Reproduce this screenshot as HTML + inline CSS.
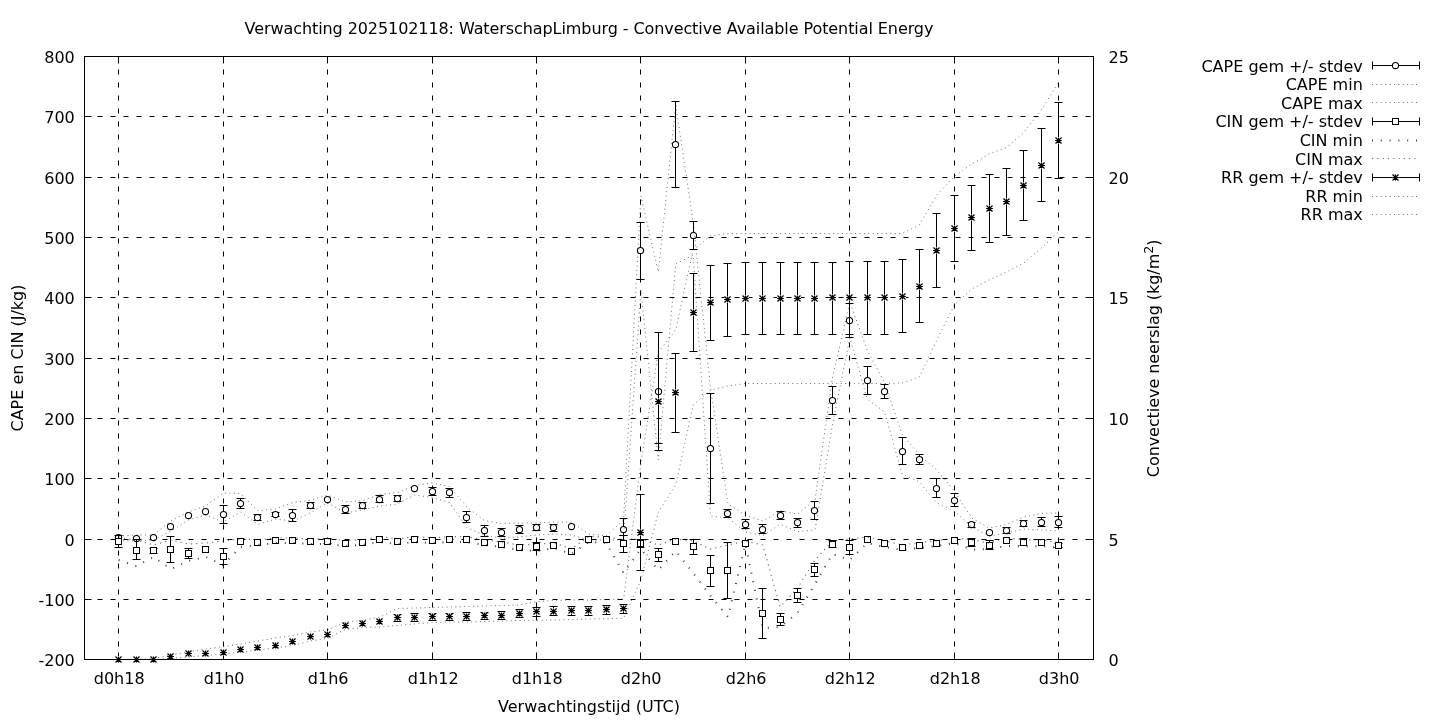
<!DOCTYPE html>
<html><head><meta charset="utf-8"><title>Convective Available Potential Energy</title>
<style>html,body{margin:0;padding:0;background:#fff}svg{display:block}text{font-family:"DejaVu Sans","Liberation Sans",sans-serif;fill:#000}</style></head>
<body>
<svg width="1440" height="720" viewBox="0 0 1440 720">
<rect x="0" y="0" width="1440" height="720" fill="#fff"/>
<path d="M84.5 599.5H1093.5M84.5 539.5H1093.5M84.5 478.5H1093.5M84.5 418.5H1093.5M84.5 358.5H1093.5M84.5 297.5H1093.5M84.5 237.5H1093.5M84.5 177.5H1093.5M84.5 116.5H1093.5" stroke="#000" stroke-width="1" fill="none" stroke-dasharray="5 8"/>
<path d="M118.5 659.5V56.5M223.5 659.5V56.5M327.5 659.5V56.5M432.5 659.5V56.5M536.5 659.5V56.5M640.5 659.5V56.5M745.5 659.5V56.5M849.5 659.5V56.5M954.5 659.5V56.5M1058.5 659.5V56.5" stroke="#000" stroke-width="1" fill="none" stroke-dasharray="5 8"/>
<path d="M84.5 659.5h7M84.5 599.5h7M84.5 539.5h7M84.5 478.5h7M84.5 418.5h7M84.5 358.5h7M84.5 297.5h7M84.5 237.5h7M84.5 177.5h7M84.5 116.5h7M84.5 56.5h7M1093.5 659.5h-7M1093.5 539.5h-7M1093.5 418.5h-7M1093.5 297.5h-7M1093.5 177.5h-7M1093.5 56.5h-7M118.5 659.5v-7M118.5 56.5v7M223.5 659.5v-7M223.5 56.5v7M327.5 659.5v-7M327.5 56.5v7M432.5 659.5v-7M432.5 56.5v7M536.5 659.5v-7M536.5 56.5v7M640.5 659.5v-7M640.5 56.5v7M745.5 659.5v-7M745.5 56.5v7M849.5 659.5v-7M849.5 56.5v7M954.5 659.5v-7M954.5 56.5v7M1058.5 659.5v-7M1058.5 56.5v7" stroke="#000" stroke-width="1" fill="none"/>
<text x="74.8" y="665.5" font-size="16" text-anchor="end">-200</text>
<text x="74.8" y="605.5" font-size="16" text-anchor="end">-100</text>
<text x="74.8" y="545.5" font-size="16" text-anchor="end">0</text>
<text x="74.8" y="484.5" font-size="16" text-anchor="end">100</text>
<text x="74.8" y="424.5" font-size="16" text-anchor="end">200</text>
<text x="74.8" y="364.5" font-size="16" text-anchor="end">300</text>
<text x="74.8" y="303.5" font-size="16" text-anchor="end">400</text>
<text x="74.8" y="243.5" font-size="16" text-anchor="end">500</text>
<text x="74.8" y="183.5" font-size="16" text-anchor="end">600</text>
<text x="74.8" y="122.5" font-size="16" text-anchor="end">700</text>
<text x="74.8" y="62.5" font-size="16" text-anchor="end">800</text>
<text x="1108.5" y="665.5" font-size="16">0</text>
<text x="1108.5" y="545.5" font-size="16">5</text>
<text x="1108.5" y="424.5" font-size="16">10</text>
<text x="1108.5" y="303.5" font-size="16">15</text>
<text x="1108.5" y="183.5" font-size="16">20</text>
<text x="1108.5" y="62.5" font-size="16">25</text>
<text x="119.2" y="683.9" font-size="16" text-anchor="middle">d0h18</text>
<text x="224.2" y="683.9" font-size="16" text-anchor="middle">d1h0</text>
<text x="328.2" y="683.9" font-size="16" text-anchor="middle">d1h6</text>
<text x="433.2" y="683.9" font-size="16" text-anchor="middle">d1h12</text>
<text x="537.2" y="683.9" font-size="16" text-anchor="middle">d1h18</text>
<text x="641.2" y="683.9" font-size="16" text-anchor="middle">d2h0</text>
<text x="746.2" y="683.9" font-size="16" text-anchor="middle">d2h6</text>
<text x="850.2" y="683.9" font-size="16" text-anchor="middle">d2h12</text>
<text x="955.2" y="683.9" font-size="16" text-anchor="middle">d2h18</text>
<text x="1059.2" y="683.9" font-size="16" text-anchor="middle">d3h0</text>
<text x="589" y="34.4" font-size="16" text-anchor="middle" textLength="688.8" lengthAdjust="spacing">Verwachting 2025102118: WaterschapLimburg - Convective Available Potential Energy</text>
<text x="589" y="712.2" font-size="16" text-anchor="middle">Verwachtingstijd (UTC)</text>
<text transform="translate(22.8 358) rotate(-90)" font-size="16" text-anchor="middle">CAPE en CIN (J/kg)</text>
<text transform="translate(1159 477.2) rotate(-90)" font-size="16" letter-spacing="-0.065">Convectieve neerslag (kg/m<tspan font-size="12.8" dy="-5.8">2</tspan><tspan dy="5.8">)</tspan></text>
<path d="M223.5 505.5V523.5M219.5 505.5h8M219.5 523.5h8M240.5 498.5V508.5M236.5 498.5h8M236.5 508.5h8M257.5 514.5V520.5M253.5 514.5h8M253.5 520.5h8M275.5 512.5V516.5M271.5 512.5h8M271.5 516.5h8M292.5 509.5V521.5M288.5 509.5h8M288.5 521.5h8M310.5 502.5V508.5M306.5 502.5h8M306.5 508.5h8M345.5 505.5V513.5M341.5 505.5h8M341.5 513.5h8M362.5 502.5V508.5M358.5 502.5h8M358.5 508.5h8M379.5 495.5V502.5M375.5 495.5h8M375.5 502.5h8M397.5 495.5V501.5M393.5 495.5h8M393.5 501.5h8M432.5 487.5V495.5M428.5 487.5h8M428.5 495.5h8M449.5 488.5V497.5M445.5 488.5h8M445.5 497.5h8M466.5 511.5V522.5M462.5 511.5h8M462.5 522.5h8M484.5 525.5V536.5M480.5 525.5h8M480.5 536.5h8M501.5 528.5V536.5M497.5 528.5h8M497.5 536.5h8M519.5 525.5V533.5M515.5 525.5h8M515.5 533.5h8M536.5 524.5V530.5M532.5 524.5h8M532.5 530.5h8M553.5 524.5V531.5M549.5 524.5h8M549.5 531.5h8M623.5 518.5V535.5M619.5 518.5h8M619.5 535.5h8M640.5 222.5V279.5M636.5 222.5h8M636.5 279.5h8M658.5 332.5V450.5M654.5 332.5h8M654.5 450.5h8M675.5 101.5V187.5M671.5 101.5h8M671.5 187.5h8M693.5 221.5V249.5M689.5 221.5h8M689.5 249.5h8M710.5 393.5V503.5M706.5 393.5h8M706.5 503.5h8M727.5 509.5V517.5M723.5 509.5h8M723.5 517.5h8M745.5 519.5V528.5M741.5 519.5h8M741.5 528.5h8M762.5 524.5V533.5M758.5 524.5h8M758.5 533.5h8M780.5 511.5V519.5M776.5 511.5h8M776.5 519.5h8M797.5 518.5V527.5M793.5 518.5h8M793.5 527.5h8M814.5 501.5V519.5M810.5 501.5h8M810.5 519.5h8M832.5 386.5V414.5M828.5 386.5h8M828.5 414.5h8M849.5 303.5V337.5M845.5 303.5h8M845.5 337.5h8M867.5 366.5V394.5M863.5 366.5h8M863.5 394.5h8M884.5 384.5V398.5M880.5 384.5h8M880.5 398.5h8M902.5 437.5V464.5M898.5 437.5h8M898.5 464.5h8M919.5 454.5V464.5M915.5 454.5h8M915.5 464.5h8M936.5 478.5V497.5M932.5 478.5h8M932.5 497.5h8M954.5 493.5V506.5M950.5 493.5h8M950.5 506.5h8M971.5 522.5V527.5M967.5 522.5h8M967.5 527.5h8M1006.5 527.5V533.5M1002.5 527.5h8M1002.5 533.5h8M1023.5 520.5V526.5M1019.5 520.5h8M1019.5 526.5h8M1041.5 517.5V526.5M1037.5 517.5h8M1037.5 526.5h8M1058.5 516.5V527.5M1054.5 516.5h8M1054.5 527.5h8" stroke="#000" stroke-width="1" fill="none"/>
<circle cx="118.5" cy="537.5" r="3.1" fill="#fff" stroke="#000" stroke-width="1.05"/>
<circle cx="136.5" cy="538.5" r="3.1" fill="#fff" stroke="#000" stroke-width="1.05"/>
<circle cx="153.5" cy="537.5" r="3.1" fill="#fff" stroke="#000" stroke-width="1.05"/>
<circle cx="170.5" cy="526.5" r="3.1" fill="#fff" stroke="#000" stroke-width="1.05"/>
<circle cx="188.5" cy="515.5" r="3.1" fill="#fff" stroke="#000" stroke-width="1.05"/>
<circle cx="205.5" cy="511.5" r="3.1" fill="#fff" stroke="#000" stroke-width="1.05"/>
<circle cx="223.5" cy="514.5" r="3.1" fill="#fff" stroke="#000" stroke-width="1.05"/>
<circle cx="240.5" cy="503.5" r="3.1" fill="#fff" stroke="#000" stroke-width="1.05"/>
<circle cx="257.5" cy="517.5" r="3.1" fill="#fff" stroke="#000" stroke-width="1.05"/>
<circle cx="275.5" cy="514.5" r="3.1" fill="#fff" stroke="#000" stroke-width="1.05"/>
<circle cx="292.5" cy="515.5" r="3.1" fill="#fff" stroke="#000" stroke-width="1.05"/>
<circle cx="310.5" cy="505.5" r="3.1" fill="#fff" stroke="#000" stroke-width="1.05"/>
<circle cx="327.5" cy="499.5" r="3.1" fill="#fff" stroke="#000" stroke-width="1.05"/>
<circle cx="345.5" cy="509.5" r="3.1" fill="#fff" stroke="#000" stroke-width="1.05"/>
<circle cx="362.5" cy="505.5" r="3.1" fill="#fff" stroke="#000" stroke-width="1.05"/>
<circle cx="379.5" cy="499.5" r="3.1" fill="#fff" stroke="#000" stroke-width="1.05"/>
<circle cx="397.5" cy="498.5" r="3.1" fill="#fff" stroke="#000" stroke-width="1.05"/>
<circle cx="414.5" cy="488.5" r="3.1" fill="#fff" stroke="#000" stroke-width="1.05"/>
<circle cx="432.5" cy="491.5" r="3.1" fill="#fff" stroke="#000" stroke-width="1.05"/>
<circle cx="449.5" cy="492.5" r="3.1" fill="#fff" stroke="#000" stroke-width="1.05"/>
<circle cx="466.5" cy="517.5" r="3.1" fill="#fff" stroke="#000" stroke-width="1.05"/>
<circle cx="484.5" cy="530.5" r="3.1" fill="#fff" stroke="#000" stroke-width="1.05"/>
<circle cx="501.5" cy="532.5" r="3.1" fill="#fff" stroke="#000" stroke-width="1.05"/>
<circle cx="519.5" cy="529.5" r="3.1" fill="#fff" stroke="#000" stroke-width="1.05"/>
<circle cx="536.5" cy="527.5" r="3.1" fill="#fff" stroke="#000" stroke-width="1.05"/>
<circle cx="553.5" cy="527.5" r="3.1" fill="#fff" stroke="#000" stroke-width="1.05"/>
<circle cx="571.5" cy="526.5" r="3.1" fill="#fff" stroke="#000" stroke-width="1.05"/>
<circle cx="588.5" cy="539.5" r="3.1" fill="#fff" stroke="#000" stroke-width="1.05"/>
<circle cx="606.5" cy="539.5" r="3.1" fill="#fff" stroke="#000" stroke-width="1.05"/>
<circle cx="623.5" cy="529.5" r="3.1" fill="#fff" stroke="#000" stroke-width="1.05"/>
<circle cx="640.5" cy="250.5" r="3.1" fill="#fff" stroke="#000" stroke-width="1.05"/>
<circle cx="658.5" cy="391.5" r="3.1" fill="#fff" stroke="#000" stroke-width="1.05"/>
<circle cx="675.5" cy="144.5" r="3.1" fill="#fff" stroke="#000" stroke-width="1.05"/>
<circle cx="693.5" cy="235.5" r="3.1" fill="#fff" stroke="#000" stroke-width="1.05"/>
<circle cx="710.5" cy="448.5" r="3.1" fill="#fff" stroke="#000" stroke-width="1.05"/>
<circle cx="727.5" cy="513.5" r="3.1" fill="#fff" stroke="#000" stroke-width="1.05"/>
<circle cx="745.5" cy="524.5" r="3.1" fill="#fff" stroke="#000" stroke-width="1.05"/>
<circle cx="762.5" cy="529.5" r="3.1" fill="#fff" stroke="#000" stroke-width="1.05"/>
<circle cx="780.5" cy="515.5" r="3.1" fill="#fff" stroke="#000" stroke-width="1.05"/>
<circle cx="797.5" cy="522.5" r="3.1" fill="#fff" stroke="#000" stroke-width="1.05"/>
<circle cx="814.5" cy="510.5" r="3.1" fill="#fff" stroke="#000" stroke-width="1.05"/>
<circle cx="832.5" cy="400.5" r="3.1" fill="#fff" stroke="#000" stroke-width="1.05"/>
<circle cx="849.5" cy="320.5" r="3.1" fill="#fff" stroke="#000" stroke-width="1.05"/>
<circle cx="867.5" cy="380.5" r="3.1" fill="#fff" stroke="#000" stroke-width="1.05"/>
<circle cx="884.5" cy="391.5" r="3.1" fill="#fff" stroke="#000" stroke-width="1.05"/>
<circle cx="902.5" cy="451.5" r="3.1" fill="#fff" stroke="#000" stroke-width="1.05"/>
<circle cx="919.5" cy="459.5" r="3.1" fill="#fff" stroke="#000" stroke-width="1.05"/>
<circle cx="936.5" cy="488.5" r="3.1" fill="#fff" stroke="#000" stroke-width="1.05"/>
<circle cx="954.5" cy="500.5" r="3.1" fill="#fff" stroke="#000" stroke-width="1.05"/>
<circle cx="971.5" cy="524.5" r="3.1" fill="#fff" stroke="#000" stroke-width="1.05"/>
<circle cx="989.5" cy="532.5" r="3.1" fill="#fff" stroke="#000" stroke-width="1.05"/>
<circle cx="1006.5" cy="530.5" r="3.1" fill="#fff" stroke="#000" stroke-width="1.05"/>
<circle cx="1023.5" cy="523.5" r="3.1" fill="#fff" stroke="#000" stroke-width="1.05"/>
<circle cx="1041.5" cy="522.5" r="3.1" fill="#fff" stroke="#000" stroke-width="1.05"/>
<circle cx="1058.5" cy="522.5" r="3.1" fill="#fff" stroke="#000" stroke-width="1.05"/>
<polyline points="118.7,541 136.11,541 153.51,540 170.92,531 188.33,520 205.74,515 223.14,522 240.55,512 257.96,524.5 275.37,519 292.77,521 310.18,513 327.59,502.5 345,513 362.4,510 379.81,506 397.22,504 414.63,495 432.03,497.5 449.44,502.5 466.85,527.5 484.26,535 501.66,538.3 519.07,537 536.48,535 553.88,534 571.29,535 588.7,540 606.11,540 623.51,540 640.92,290 658.33,460 675.74,264 693.14,255 710.55,516 727.96,518 745.37,532 762.77,535.6 780.18,524.3 797.59,531.5 815,530 832.4,425 849.81,338 867.22,399 884.63,412 902.03,474 919.44,482 936.85,503 954.26,511 971.66,527 989.07,536 1006.48,533 1023.88,529 1041.29,530 1058.7,531" fill="none" stroke="#000" stroke-opacity="0.56" stroke-width="1" stroke-dasharray="1 3.4"/>
<polyline points="118.7,536 136.11,535 153.51,535 170.92,521 188.33,512 205.74,506 223.14,493 240.55,493.5 257.96,511 275.37,509 292.77,502.5 310.18,500.4 327.59,495 345,502 362.4,500.7 379.81,494.5 397.22,492.5 414.63,485.5 432.03,483 449.44,486.5 466.85,507 484.26,520.5 501.66,523.5 519.07,523 536.48,523 553.88,522 571.29,522 588.7,534 606.11,536 623.51,520 640.92,196 658.33,272 675.74,105 693.14,222 710.55,388 727.96,504 745.37,515 762.77,521 780.18,511 797.59,514 815,500 832.4,378 849.81,302 867.22,350 884.63,383 902.03,434 919.44,455 936.85,470 954.26,491 971.66,518 989.07,528 1006.48,524.5 1023.88,517 1041.29,513.3 1058.7,513" fill="none" stroke="#000" stroke-opacity="0.56" stroke-width="1" stroke-dasharray="1 3.4"/>
<path d="M118.5 535.5V547.5M114.5 535.5h8M114.5 547.5h8M136.5 539.5V559.5M132.5 539.5h8M132.5 559.5h8M153.5 548.5V553.5M149.5 548.5h8M149.5 553.5h8M170.5 536.5V562.5M166.5 536.5h8M166.5 562.5h8M188.5 548.5V558.5M184.5 548.5h8M184.5 558.5h8M223.5 548.5V564.5M219.5 548.5h8M219.5 564.5h8M327.5 538.5V543.5M323.5 538.5h8M323.5 543.5h8M536.5 542.5V550.5M532.5 542.5h8M532.5 550.5h8M623.5 535.5V552.5M619.5 535.5h8M619.5 552.5h8M640.5 539.5V547.5M636.5 539.5h8M636.5 547.5h8M658.5 548.5V561.5M654.5 548.5h8M654.5 561.5h8M693.5 539.5V554.5M689.5 539.5h8M689.5 554.5h8M710.5 555.5V586.5M706.5 555.5h8M706.5 586.5h8M727.5 542.5V598.5M723.5 542.5h8M723.5 598.5h8M762.5 588.5V638.5M758.5 588.5h8M758.5 638.5h8M780.5 613.5V625.5M776.5 613.5h8M776.5 625.5h8M797.5 588.5V602.5M793.5 588.5h8M793.5 602.5h8M814.5 563.5V576.5M810.5 563.5h8M810.5 576.5h8M832.5 540.5V547.5M828.5 540.5h8M828.5 547.5h8M849.5 540.5V554.5M845.5 540.5h8M845.5 554.5h8M971.5 538.5V546.5M967.5 538.5h8M967.5 546.5h8M989.5 540.5V549.5M985.5 540.5h8M985.5 549.5h8M1023.5 538.5V545.5M1019.5 538.5h8M1019.5 545.5h8M1058.5 543.5V547.5M1054.5 543.5h8M1054.5 547.5h8" stroke="#000" stroke-width="1" fill="none"/>
<rect x="115.5" y="538.5" width="6" height="6" fill="#fff" stroke="#000" stroke-width="1"/>
<rect x="133.5" y="547.5" width="6" height="6" fill="#fff" stroke="#000" stroke-width="1"/>
<rect x="150.5" y="547.5" width="6" height="6" fill="#fff" stroke="#000" stroke-width="1"/>
<rect x="167.5" y="546.5" width="6" height="6" fill="#fff" stroke="#000" stroke-width="1"/>
<rect x="185.5" y="550.5" width="6" height="6" fill="#fff" stroke="#000" stroke-width="1"/>
<rect x="202.5" y="546.5" width="6" height="6" fill="#fff" stroke="#000" stroke-width="1"/>
<rect x="220.5" y="553.5" width="6" height="6" fill="#fff" stroke="#000" stroke-width="1"/>
<rect x="237.5" y="538.5" width="6" height="6" fill="#fff" stroke="#000" stroke-width="1"/>
<rect x="254.5" y="539.5" width="6" height="6" fill="#fff" stroke="#000" stroke-width="1"/>
<rect x="272.5" y="537.5" width="6" height="6" fill="#fff" stroke="#000" stroke-width="1"/>
<rect x="289.5" y="537.5" width="6" height="6" fill="#fff" stroke="#000" stroke-width="1"/>
<rect x="307.5" y="538.5" width="6" height="6" fill="#fff" stroke="#000" stroke-width="1"/>
<rect x="324.5" y="538.5" width="6" height="6" fill="#fff" stroke="#000" stroke-width="1"/>
<rect x="342.5" y="540.5" width="6" height="6" fill="#fff" stroke="#000" stroke-width="1"/>
<rect x="359.5" y="539.5" width="6" height="6" fill="#fff" stroke="#000" stroke-width="1"/>
<rect x="376.5" y="536.5" width="6" height="6" fill="#fff" stroke="#000" stroke-width="1"/>
<rect x="394.5" y="538.5" width="6" height="6" fill="#fff" stroke="#000" stroke-width="1"/>
<rect x="411.5" y="536.5" width="6" height="6" fill="#fff" stroke="#000" stroke-width="1"/>
<rect x="429.5" y="537.5" width="6" height="6" fill="#fff" stroke="#000" stroke-width="1"/>
<rect x="446.5" y="536.5" width="6" height="6" fill="#fff" stroke="#000" stroke-width="1"/>
<rect x="463.5" y="536.5" width="6" height="6" fill="#fff" stroke="#000" stroke-width="1"/>
<rect x="481.5" y="539.5" width="6" height="6" fill="#fff" stroke="#000" stroke-width="1"/>
<rect x="498.5" y="541.5" width="6" height="6" fill="#fff" stroke="#000" stroke-width="1"/>
<rect x="516.5" y="544.5" width="6" height="6" fill="#fff" stroke="#000" stroke-width="1"/>
<rect x="533.5" y="543.5" width="6" height="6" fill="#fff" stroke="#000" stroke-width="1"/>
<rect x="550.5" y="542.5" width="6" height="6" fill="#fff" stroke="#000" stroke-width="1"/>
<rect x="568.5" y="548.5" width="6" height="6" fill="#fff" stroke="#000" stroke-width="1"/>
<rect x="585.5" y="536.5" width="6" height="6" fill="#fff" stroke="#000" stroke-width="1"/>
<rect x="603.5" y="536.5" width="6" height="6" fill="#fff" stroke="#000" stroke-width="1"/>
<rect x="620.5" y="540.5" width="6" height="6" fill="#fff" stroke="#000" stroke-width="1"/>
<rect x="637.5" y="540.5" width="6" height="6" fill="#fff" stroke="#000" stroke-width="1"/>
<rect x="655.5" y="551.5" width="6" height="6" fill="#fff" stroke="#000" stroke-width="1"/>
<rect x="672.5" y="538.5" width="6" height="6" fill="#fff" stroke="#000" stroke-width="1"/>
<rect x="690.5" y="543.5" width="6" height="6" fill="#fff" stroke="#000" stroke-width="1"/>
<rect x="707.5" y="567.5" width="6" height="6" fill="#fff" stroke="#000" stroke-width="1"/>
<rect x="724.5" y="567.5" width="6" height="6" fill="#fff" stroke="#000" stroke-width="1"/>
<rect x="742.5" y="540.5" width="6" height="6" fill="#fff" stroke="#000" stroke-width="1"/>
<rect x="759.5" y="610.5" width="6" height="6" fill="#fff" stroke="#000" stroke-width="1"/>
<rect x="777.5" y="616.5" width="6" height="6" fill="#fff" stroke="#000" stroke-width="1"/>
<rect x="794.5" y="592.5" width="6" height="6" fill="#fff" stroke="#000" stroke-width="1"/>
<rect x="811.5" y="566.5" width="6" height="6" fill="#fff" stroke="#000" stroke-width="1"/>
<rect x="829.5" y="541.5" width="6" height="6" fill="#fff" stroke="#000" stroke-width="1"/>
<rect x="846.5" y="544.5" width="6" height="6" fill="#fff" stroke="#000" stroke-width="1"/>
<rect x="864.5" y="536.5" width="6" height="6" fill="#fff" stroke="#000" stroke-width="1"/>
<rect x="881.5" y="540.5" width="6" height="6" fill="#fff" stroke="#000" stroke-width="1"/>
<rect x="899.5" y="544.5" width="6" height="6" fill="#fff" stroke="#000" stroke-width="1"/>
<rect x="916.5" y="542.5" width="6" height="6" fill="#fff" stroke="#000" stroke-width="1"/>
<rect x="933.5" y="540.5" width="6" height="6" fill="#fff" stroke="#000" stroke-width="1"/>
<rect x="951.5" y="537.5" width="6" height="6" fill="#fff" stroke="#000" stroke-width="1"/>
<rect x="968.5" y="539.5" width="6" height="6" fill="#fff" stroke="#000" stroke-width="1"/>
<rect x="986.5" y="542.5" width="6" height="6" fill="#fff" stroke="#000" stroke-width="1"/>
<rect x="1003.5" y="537.5" width="6" height="6" fill="#fff" stroke="#000" stroke-width="1"/>
<rect x="1020.5" y="539.5" width="6" height="6" fill="#fff" stroke="#000" stroke-width="1"/>
<rect x="1038.5" y="539.5" width="6" height="6" fill="#fff" stroke="#000" stroke-width="1"/>
<rect x="1055.5" y="542.5" width="6" height="6" fill="#fff" stroke="#000" stroke-width="1"/>
<polyline points="118.7,560 136.11,566 153.51,557 170.92,569 188.33,561 205.74,557 223.14,565 240.55,547 257.96,545 275.37,543 292.77,543 310.18,544 327.59,544 345,546 362.4,545 379.81,542 397.22,544 414.63,542 432.03,543 449.44,542 466.85,542 484.26,545 501.66,547 519.07,550 536.48,551 553.88,548 571.29,554 588.7,542 606.11,543 623.51,573 640.92,549 658.33,570 675.74,551 693.14,573 710.55,596 727.96,617 745.37,544 762.77,628 780.18,627 797.59,613 815,584 832.4,554 849.81,560 867.22,543 884.63,547 902.03,550 919.44,548 936.85,546 954.26,543 971.66,549.5 989.07,549 1006.48,546 1023.88,546.5 1041.29,546 1058.7,548" fill="none" stroke="#000" stroke-opacity="0.75" stroke-width="2" stroke-dasharray="1 7.8"/>
<polyline points="118.7,538 136.11,540 153.51,545 170.92,540 188.33,544 205.74,543 223.14,541 240.55,538.8 257.96,540 275.37,538 292.77,538 310.18,539 327.59,538.8 345,540.5 362.4,539.7 379.81,536.7 397.22,538.8 414.63,536.7 432.03,538 449.44,536.7 466.85,536.7 484.26,540 501.66,542 519.07,545 536.48,544.2 553.88,543 571.29,548.8 588.7,536.7 606.11,536.7 623.51,540 640.92,539 658.33,545 675.74,539 693.14,541 710.55,549 727.96,545 745.37,541 762.77,545 780.18,607 797.59,588 815,560 832.4,541 849.81,539 867.22,537 884.63,540.8 902.03,545 919.44,542.5 936.85,540.8 954.26,537.8 971.66,539.8 989.07,543.1 1006.48,537.7 1023.88,539.8 1041.29,539.8 1058.7,542.7" fill="none" stroke="#000" stroke-opacity="0.56" stroke-width="1.2" stroke-dasharray="1.2 4.1"/>
<path d="M397.5 614.5V621.5M393.5 614.5h8M393.5 621.5h8M414.5 613.5V621.5M410.5 613.5h8M410.5 621.5h8M432.5 613.5V620.5M428.5 613.5h8M428.5 620.5h8M449.5 613.5V620.5M445.5 613.5h8M445.5 620.5h8M466.5 612.5V620.5M462.5 612.5h8M462.5 620.5h8M484.5 612.5V619.5M480.5 612.5h8M480.5 619.5h8M501.5 611.5V619.5M497.5 611.5h8M497.5 619.5h8M519.5 609.5V617.5M515.5 609.5h8M515.5 617.5h8M536.5 607.5V616.5M532.5 607.5h8M532.5 616.5h8M553.5 606.5V615.5M549.5 606.5h8M549.5 615.5h8M571.5 606.5V615.5M567.5 606.5h8M567.5 615.5h8M588.5 606.5V615.5M584.5 606.5h8M584.5 615.5h8M606.5 605.5V614.5M602.5 605.5h8M602.5 614.5h8M623.5 604.5V613.5M619.5 604.5h8M619.5 613.5h8M640.5 494.5V570.5M636.5 494.5h8M636.5 570.5h8M658.5 358.5V443.5M654.5 358.5h8M654.5 443.5h8M675.5 353.5V432.5M671.5 353.5h8M671.5 432.5h8M693.5 273.5V351.5M689.5 273.5h8M689.5 351.5h8M710.5 265.5V340.5M706.5 265.5h8M706.5 340.5h8M727.5 263.5V336.5M723.5 263.5h8M723.5 336.5h8M745.5 262.5V334.5M741.5 262.5h8M741.5 334.5h8M762.5 262.5V334.5M758.5 262.5h8M758.5 334.5h8M780.5 262.5V334.5M776.5 262.5h8M776.5 334.5h8M797.5 262.5V334.5M793.5 262.5h8M793.5 334.5h8M814.5 262.5V334.5M810.5 262.5h8M810.5 334.5h8M832.5 262.5V334.5M828.5 262.5h8M828.5 334.5h8M849.5 261.5V334.5M845.5 261.5h8M845.5 334.5h8M867.5 261.5V334.5M863.5 261.5h8M863.5 334.5h8M884.5 261.5V334.5M880.5 261.5h8M880.5 334.5h8M902.5 259.5V332.5M898.5 259.5h8M898.5 332.5h8M919.5 249.5V322.5M915.5 249.5h8M915.5 322.5h8M936.5 213.5V287.5M932.5 213.5h8M932.5 287.5h8M954.5 195.5V261.5M950.5 195.5h8M950.5 261.5h8M971.5 185.5V250.5M967.5 185.5h8M967.5 250.5h8M989.5 174.5V242.5M985.5 174.5h8M985.5 242.5h8M1006.5 168.5V235.5M1002.5 168.5h8M1002.5 235.5h8M1023.5 150.5V220.5M1019.5 150.5h8M1019.5 220.5h8M1041.5 128.5V201.5M1037.5 128.5h8M1037.5 201.5h8M1058.5 102.5V178.5M1054.5 102.5h8M1054.5 178.5h8" stroke="#000" stroke-width="1" fill="none"/>
<circle cx="118.5" cy="659.5" r="3.6" fill="#fff"/>
<circle cx="136.5" cy="659.5" r="3.6" fill="#fff"/>
<circle cx="153.5" cy="659.5" r="3.6" fill="#fff"/>
<circle cx="170.5" cy="656.5" r="3.6" fill="#fff"/>
<circle cx="188.5" cy="653.5" r="3.6" fill="#fff"/>
<circle cx="205.5" cy="653.5" r="3.6" fill="#fff"/>
<circle cx="223.5" cy="652.5" r="3.6" fill="#fff"/>
<circle cx="240.5" cy="649.5" r="3.6" fill="#fff"/>
<circle cx="257.5" cy="647.5" r="3.6" fill="#fff"/>
<circle cx="275.5" cy="645.5" r="3.6" fill="#fff"/>
<circle cx="292.5" cy="641.5" r="3.6" fill="#fff"/>
<circle cx="310.5" cy="636.5" r="3.6" fill="#fff"/>
<circle cx="327.5" cy="634.5" r="3.6" fill="#fff"/>
<circle cx="345.5" cy="625.5" r="3.6" fill="#fff"/>
<circle cx="362.5" cy="623.5" r="3.6" fill="#fff"/>
<circle cx="379.5" cy="621.5" r="3.6" fill="#fff"/>
<circle cx="397.5" cy="617.5" r="3.6" fill="#fff"/>
<circle cx="414.5" cy="617.5" r="3.6" fill="#fff"/>
<circle cx="432.5" cy="616.5" r="3.6" fill="#fff"/>
<circle cx="449.5" cy="616.5" r="3.6" fill="#fff"/>
<circle cx="466.5" cy="616.5" r="3.6" fill="#fff"/>
<circle cx="484.5" cy="615.5" r="3.6" fill="#fff"/>
<circle cx="501.5" cy="615.5" r="3.6" fill="#fff"/>
<circle cx="519.5" cy="613.5" r="3.6" fill="#fff"/>
<circle cx="536.5" cy="611.5" r="3.6" fill="#fff"/>
<circle cx="553.5" cy="611.5" r="3.6" fill="#fff"/>
<circle cx="571.5" cy="610.5" r="3.6" fill="#fff"/>
<circle cx="588.5" cy="610.5" r="3.6" fill="#fff"/>
<circle cx="606.5" cy="609.5" r="3.6" fill="#fff"/>
<circle cx="623.5" cy="608.5" r="3.6" fill="#fff"/>
<circle cx="640.5" cy="532.5" r="3.6" fill="#fff"/>
<circle cx="658.5" cy="401.5" r="3.6" fill="#fff"/>
<circle cx="675.5" cy="392.5" r="3.6" fill="#fff"/>
<circle cx="693.5" cy="312.5" r="3.6" fill="#fff"/>
<circle cx="710.5" cy="302.5" r="3.6" fill="#fff"/>
<circle cx="727.5" cy="299.5" r="3.6" fill="#fff"/>
<circle cx="745.5" cy="298.5" r="3.6" fill="#fff"/>
<circle cx="762.5" cy="298.5" r="3.6" fill="#fff"/>
<circle cx="780.5" cy="298.5" r="3.6" fill="#fff"/>
<circle cx="797.5" cy="298.5" r="3.6" fill="#fff"/>
<circle cx="814.5" cy="298.5" r="3.6" fill="#fff"/>
<circle cx="832.5" cy="297.5" r="3.6" fill="#fff"/>
<circle cx="849.5" cy="297.5" r="3.6" fill="#fff"/>
<circle cx="867.5" cy="297.5" r="3.6" fill="#fff"/>
<circle cx="884.5" cy="297.5" r="3.6" fill="#fff"/>
<circle cx="902.5" cy="296.5" r="3.6" fill="#fff"/>
<circle cx="919.5" cy="286.5" r="3.6" fill="#fff"/>
<circle cx="936.5" cy="250.5" r="3.6" fill="#fff"/>
<circle cx="954.5" cy="228.5" r="3.6" fill="#fff"/>
<circle cx="971.5" cy="217.5" r="3.6" fill="#fff"/>
<circle cx="989.5" cy="208.5" r="3.6" fill="#fff"/>
<circle cx="1006.5" cy="201.5" r="3.6" fill="#fff"/>
<circle cx="1023.5" cy="185.5" r="3.6" fill="#fff"/>
<circle cx="1041.5" cy="165.5" r="3.6" fill="#fff"/>
<circle cx="1058.5" cy="140.5" r="3.6" fill="#fff"/>
<path d="M115.1 659.5h6.8M118.5 656.5v6M115.5 656.5l6 6M115.5 662.5l6 -6M133.1 659.5h6.8M136.5 656.5v6M133.5 656.5l6 6M133.5 662.5l6 -6M150.1 659.5h6.8M153.5 656.5v6M150.5 656.5l6 6M150.5 662.5l6 -6M167.1 656.5h6.8M170.5 653.5v6M167.5 653.5l6 6M167.5 659.5l6 -6M185.1 653.5h6.8M188.5 650.5v6M185.5 650.5l6 6M185.5 656.5l6 -6M202.1 653.5h6.8M205.5 650.5v6M202.5 650.5l6 6M202.5 656.5l6 -6M220.1 652.5h6.8M223.5 649.5v6M220.5 649.5l6 6M220.5 655.5l6 -6M237.1 649.5h6.8M240.5 646.5v6M237.5 646.5l6 6M237.5 652.5l6 -6M254.1 647.5h6.8M257.5 644.5v6M254.5 644.5l6 6M254.5 650.5l6 -6M272.1 645.5h6.8M275.5 642.5v6M272.5 642.5l6 6M272.5 648.5l6 -6M289.1 641.5h6.8M292.5 638.5v6M289.5 638.5l6 6M289.5 644.5l6 -6M307.1 636.5h6.8M310.5 633.5v6M307.5 633.5l6 6M307.5 639.5l6 -6M324.1 634.5h6.8M327.5 631.5v6M324.5 631.5l6 6M324.5 637.5l6 -6M342.1 625.5h6.8M345.5 622.5v6M342.5 622.5l6 6M342.5 628.5l6 -6M359.1 623.5h6.8M362.5 620.5v6M359.5 620.5l6 6M359.5 626.5l6 -6M376.1 621.5h6.8M379.5 618.5v6M376.5 618.5l6 6M376.5 624.5l6 -6M394.1 617.5h6.8M397.5 614.5v6M394.5 614.5l6 6M394.5 620.5l6 -6M411.1 617.5h6.8M414.5 614.5v6M411.5 614.5l6 6M411.5 620.5l6 -6M429.1 616.5h6.8M432.5 613.5v6M429.5 613.5l6 6M429.5 619.5l6 -6M446.1 616.5h6.8M449.5 613.5v6M446.5 613.5l6 6M446.5 619.5l6 -6M463.1 616.5h6.8M466.5 613.5v6M463.5 613.5l6 6M463.5 619.5l6 -6M481.1 615.5h6.8M484.5 612.5v6M481.5 612.5l6 6M481.5 618.5l6 -6M498.1 615.5h6.8M501.5 612.5v6M498.5 612.5l6 6M498.5 618.5l6 -6M516.1 613.5h6.8M519.5 610.5v6M516.5 610.5l6 6M516.5 616.5l6 -6M533.1 611.5h6.8M536.5 608.5v6M533.5 608.5l6 6M533.5 614.5l6 -6M550.1 611.5h6.8M553.5 608.5v6M550.5 608.5l6 6M550.5 614.5l6 -6M568.1 610.5h6.8M571.5 607.5v6M568.5 607.5l6 6M568.5 613.5l6 -6M585.1 610.5h6.8M588.5 607.5v6M585.5 607.5l6 6M585.5 613.5l6 -6M603.1 609.5h6.8M606.5 606.5v6M603.5 606.5l6 6M603.5 612.5l6 -6M620.1 608.5h6.8M623.5 605.5v6M620.5 605.5l6 6M620.5 611.5l6 -6M637.1 532.5h6.8M640.5 529.5v6M637.5 529.5l6 6M637.5 535.5l6 -6M655.1 401.5h6.8M658.5 398.5v6M655.5 398.5l6 6M655.5 404.5l6 -6M672.1 392.5h6.8M675.5 389.5v6M672.5 389.5l6 6M672.5 395.5l6 -6M690.1 312.5h6.8M693.5 309.5v6M690.5 309.5l6 6M690.5 315.5l6 -6M707.1 302.5h6.8M710.5 299.5v6M707.5 299.5l6 6M707.5 305.5l6 -6M724.1 299.5h6.8M727.5 296.5v6M724.5 296.5l6 6M724.5 302.5l6 -6M742.1 298.5h6.8M745.5 295.5v6M742.5 295.5l6 6M742.5 301.5l6 -6M759.1 298.5h6.8M762.5 295.5v6M759.5 295.5l6 6M759.5 301.5l6 -6M777.1 298.5h6.8M780.5 295.5v6M777.5 295.5l6 6M777.5 301.5l6 -6M794.1 298.5h6.8M797.5 295.5v6M794.5 295.5l6 6M794.5 301.5l6 -6M811.1 298.5h6.8M814.5 295.5v6M811.5 295.5l6 6M811.5 301.5l6 -6M829.1 297.5h6.8M832.5 294.5v6M829.5 294.5l6 6M829.5 300.5l6 -6M846.1 297.5h6.8M849.5 294.5v6M846.5 294.5l6 6M846.5 300.5l6 -6M864.1 297.5h6.8M867.5 294.5v6M864.5 294.5l6 6M864.5 300.5l6 -6M881.1 297.5h6.8M884.5 294.5v6M881.5 294.5l6 6M881.5 300.5l6 -6M899.1 296.5h6.8M902.5 293.5v6M899.5 293.5l6 6M899.5 299.5l6 -6M916.1 286.5h6.8M919.5 283.5v6M916.5 283.5l6 6M916.5 289.5l6 -6M933.1 250.5h6.8M936.5 247.5v6M933.5 247.5l6 6M933.5 253.5l6 -6M951.1 228.5h6.8M954.5 225.5v6M951.5 225.5l6 6M951.5 231.5l6 -6M968.1 217.5h6.8M971.5 214.5v6M968.5 214.5l6 6M968.5 220.5l6 -6M986.1 208.5h6.8M989.5 205.5v6M986.5 205.5l6 6M986.5 211.5l6 -6M1003.1 201.5h6.8M1006.5 198.5v6M1003.5 198.5l6 6M1003.5 204.5l6 -6M1020.1 185.5h6.8M1023.5 182.5v6M1020.5 182.5l6 6M1020.5 188.5l6 -6M1038.1 165.5h6.8M1041.5 162.5v6M1038.5 162.5l6 6M1038.5 168.5l6 -6M1055.1 140.5h6.8M1058.5 137.5v6M1055.5 137.5l6 6M1055.5 143.5l6 -6" stroke="#000" stroke-width="1.2" fill="none"/>
<polyline points="118.7,659.5 136.11,659.5 153.51,659.5 170.92,658.3 188.33,657 205.74,655.5 223.14,654 240.55,652 257.96,650 275.37,648 292.77,645.5 310.18,641 327.59,638.3 345,629.5 362.4,627.5 379.81,627 397.22,625.4 414.63,624 432.03,622.5 449.44,622 466.85,622 484.26,621.5 501.66,621 519.07,620.5 536.48,620.3 553.88,620 571.29,619.5 588.7,619 606.11,618.7 623.51,618.3 640.92,580 658.33,512 675.74,485 693.14,405 710.55,390 727.96,386 745.37,383.5 762.77,383.5 780.18,383.5 797.59,383.5 815,383.5 832.4,383.5 849.81,383.5 867.22,383.5 884.63,383.5 902.03,383 919.44,377 936.85,340 954.26,305 971.66,289 989.07,280 1006.48,272 1023.88,263 1041.29,248 1058.7,232" fill="none" stroke="#000" stroke-opacity="0.56" stroke-width="1" stroke-dasharray="1 3.4"/>
<polyline points="118.7,659.5 136.11,659.5 153.51,658.5 170.92,655 188.33,652 205.74,649 223.14,646.7 240.55,644 257.96,641 275.37,638 292.77,635.5 310.18,632 327.59,630 345,622 362.4,620.5 379.81,617 397.22,608.5 414.63,608 432.03,607.5 449.44,607 466.85,606.5 484.26,606 501.66,605.5 519.07,605 536.48,601.7 553.88,600.5 571.29,600 588.7,600 606.11,599.5 623.51,599.2 640.92,463 658.33,352 675.74,330 693.14,250 710.55,236 727.96,233.5 745.37,233.5 762.77,233.5 780.18,233.5 797.59,233.5 815,233.5 832.4,233.5 849.81,233.5 867.22,233.5 884.63,233.5 902.03,233.5 919.44,225 936.85,195 954.26,176.5 971.66,164 989.07,154 1006.48,147.5 1023.88,132.5 1041.29,110 1058.7,82" fill="none" stroke="#000" stroke-opacity="0.56" stroke-width="1" stroke-dasharray="1 3.4"/>
<rect x="84.5" y="56.5" width="1009" height="603" stroke="#000" stroke-width="1" fill="none"/>
<text x="1362.8" y="71.6" font-size="16" text-anchor="end">CAPE gem +/- stdev</text>
<text x="1362.8" y="90.2" font-size="16" text-anchor="end">CAPE min</text>
<text x="1362.8" y="108.8" font-size="16" text-anchor="end">CAPE max</text>
<text x="1362.8" y="127.4" font-size="16" text-anchor="end">CIN gem +/- stdev</text>
<text x="1362.8" y="146" font-size="16" text-anchor="end">CIN min</text>
<text x="1362.8" y="164.6" font-size="16" text-anchor="end">CIN max</text>
<text x="1362.8" y="183.2" font-size="16" text-anchor="end">RR gem +/- stdev</text>
<text x="1362.8" y="201.8" font-size="16" text-anchor="end">RR min</text>
<text x="1362.8" y="220.4" font-size="16" text-anchor="end">RR max</text>
<path d="M1372.5 65.5H1419.5M1372.5 61.5vM1419.5 61.5v" stroke="#000" stroke-width="1" fill="none"/>
<path d="M1372.5 61.5v8M1419.5 61.5v8" stroke="#000" stroke-width="1" fill="none"/>
<path d="M1372.5 121.5H1419.5M1372.5 117.5vM1419.5 117.5v" stroke="#000" stroke-width="1" fill="none"/>
<path d="M1372.5 117.5v8M1419.5 117.5v8" stroke="#000" stroke-width="1" fill="none"/>
<path d="M1372.5 177.5H1419.5M1372.5 173.5vM1419.5 173.5v" stroke="#000" stroke-width="1" fill="none"/>
<path d="M1372.5 173.5v8M1419.5 173.5v8" stroke="#000" stroke-width="1" fill="none"/>
<circle cx="1395.5" cy="65.5" r="3.1" fill="#fff" stroke="#000" stroke-width="1.05"/>
<rect x="1392.5" y="118.5" width="6" height="6" fill="#fff" stroke="#000" stroke-width="1"/>
<circle cx="1395.5" cy="177.5" r="3.6" fill="#fff"/>
<path d="M1392.1 177.5h6.8M1395.5 174.5v6M1392.5 174.5l6 6M1392.5 180.5l6 -6" stroke="#000" stroke-width="1.2" fill="none"/>
<path d="M1372 84.5H1419.5" fill="none" stroke="#000" stroke-opacity="0.56" stroke-width="1" stroke-dasharray="1 3.4"/>
<path d="M1372 102.5H1419.5" fill="none" stroke="#000" stroke-opacity="0.56" stroke-width="1" stroke-dasharray="1 3.4"/>
<path d="M1372 140.5H1419.5" fill="none" stroke="#000" stroke-opacity="0.75" stroke-width="2" stroke-dasharray="1 7.8"/>
<path d="M1372 158.5H1419.5" fill="none" stroke="#000" stroke-opacity="0.56" stroke-width="1.2" stroke-dasharray="1.2 4.1"/>
<path d="M1372 196.5H1419.5" fill="none" stroke="#000" stroke-opacity="0.56" stroke-width="1" stroke-dasharray="1 3.4"/>
<path d="M1372 214.5H1419.5" fill="none" stroke="#000" stroke-opacity="0.56" stroke-width="1" stroke-dasharray="1 3.4"/>
</svg>
</body></html>
